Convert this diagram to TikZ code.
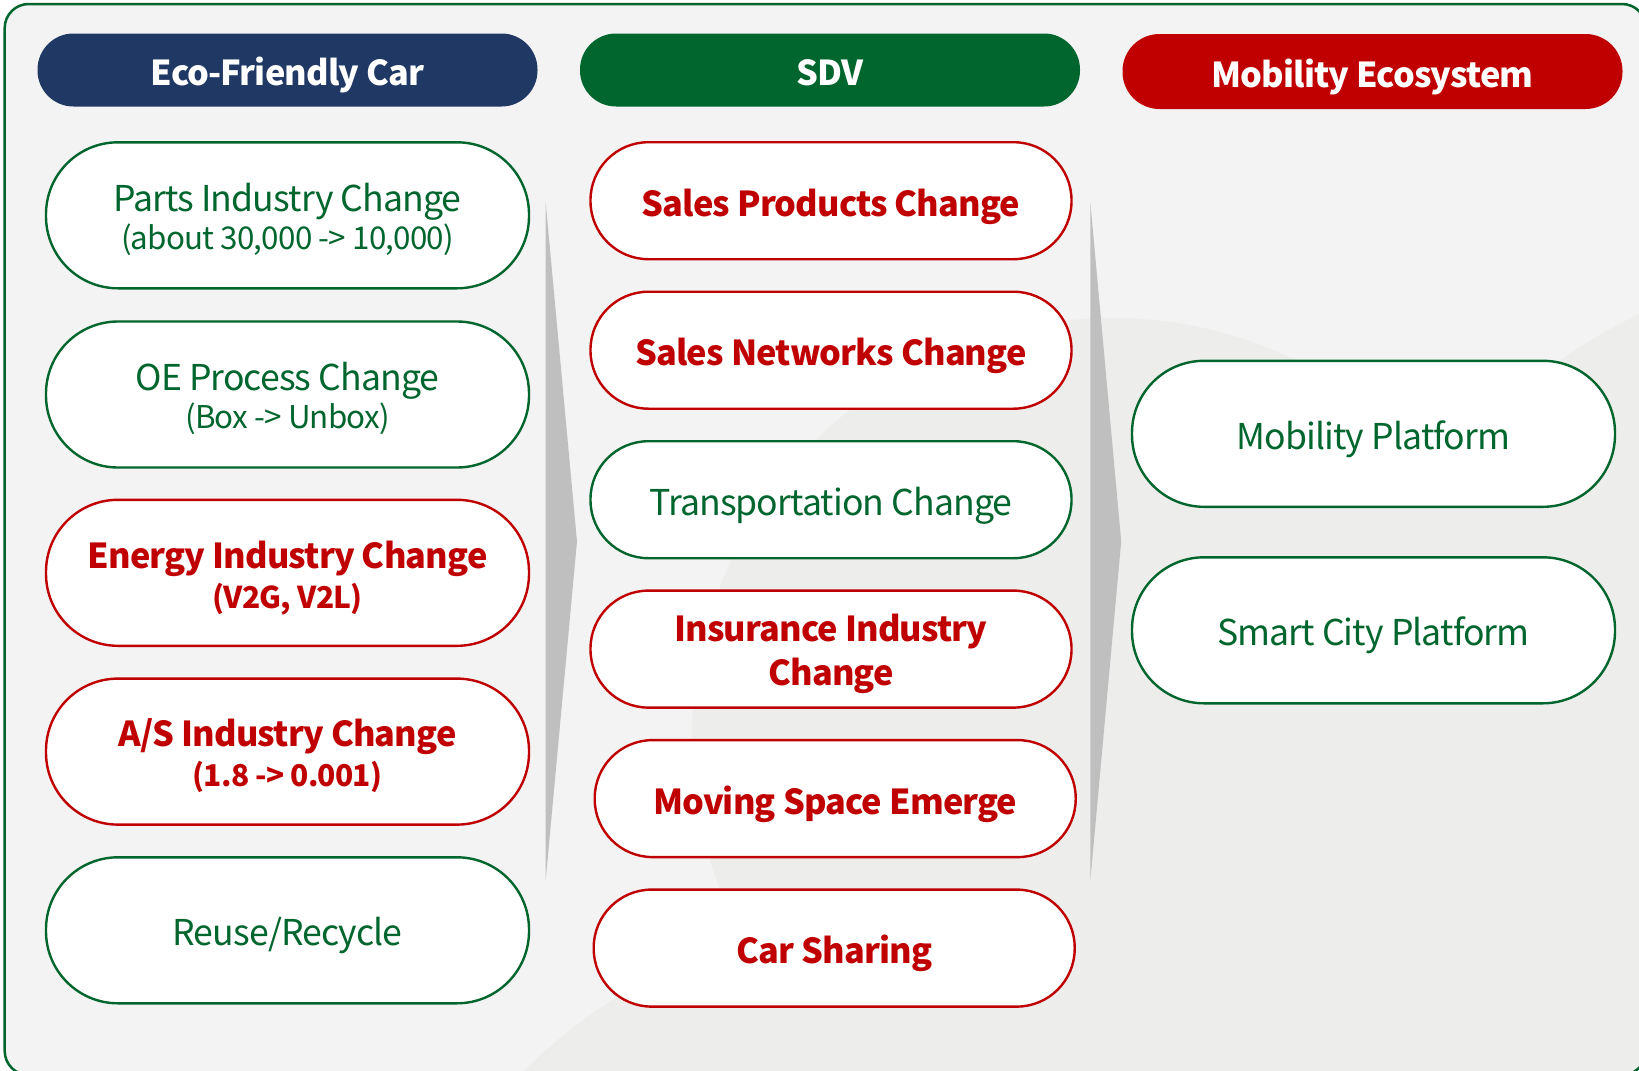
\documentclass[tikz,border=0pt]{standalone}
\usepackage{fontspec}
\setmainfont{Noto Sans CJK KR}[LetterSpace=-2.5]
\definecolor{navy}{HTML}{1F3864}
\definecolor{hgreen}{HTML}{00662E}
\definecolor{tgreen}{HTML}{00662E}
\definecolor{hred}{HTML}{C00000}
\definecolor{bglight}{HTML}{F3F3F3}
\definecolor{bgdark}{HTML}{EDEDEB}
\definecolor{arrgray}{HTML}{BFBFBF}
\newlength\tmpw
\newcommand\calibsize[4]{\settowidth\tmpw{#2\fontsize{50}{60}\selectfont #3}\pgfmathsetmacro#1{#4/\tmpw*50}\global\let#1#1}
\AtBeginDocument{%
\calibsize{\sH}{\bfseries}{Mobility Ecosystem}{322}%
\calibsize{\sG}{}{Parts Industry Change}{348}%
\calibsize{\sGs}{}{(about 30,000 -> 10,000)}{333}%
\calibsize{\sR}{\bfseries}{Energy Industry Change}{400}%
\calibsize{\sRs}{\bfseries}{(1.8 -> 0.001)}{190}%
}
\tikzset{
  hdr/.style={fill=#1, draw=none, rectangle, rounded corners=36pt, minimum width=500pt, minimum height=73pt, inner sep=0pt, text=white, font=\fontsize{\sH}{40}\selectfont\bfseries, text height=31pt, text depth=0pt},
  pill/.style={draw=#1, line width=2.4pt, fill=white, rectangle, inner sep=0pt, align=center},
  bigpill/.style={pill=#1, minimum width=483pt, minimum height=146pt, rounded corners=72pt},
  midpill/.style={pill=#1, minimum width=481pt, minimum height=117pt, rounded corners=58pt},
  gtxt/.style={text=tgreen, font=\fontsize{\sG}{38}\selectfont},
  rtxt/.style={text=hred, font=\fontsize{\sR}{40}\selectfont\bfseries},
  oneline/.style={text height=31pt, text depth=0pt},
  twoline/.style={text height=#1, text depth=0pt},
  flow/.style={fill=arrgray, draw=none},
  frame/.style={rounded corners=24pt},
}
\begin{document}
\begin{tikzpicture}[x=1pt,y=-1pt]
\useasboundingbox (0,0) rectangle (1639,1071);
% frame background
\fill[bglight, frame] (4.7,4) rectangle (1646,1075);
\begin{scope}
  \clip[frame] (4.7,4) rectangle (1646,1075);
  \fill[bgdark] (1112,738) circle[radius=420];
  \fill[bgdark] (1900,850) circle[radius=596];
  \fill[bgdark] (878,1424) circle[radius=500];
  \fill[bgdark] (1430,1180) circle[radius=300];
\end{scope}
\draw[hgreen, line width=2.5pt, frame] (4.7,4) rectangle (1646,1075);

% headers
\node[hdr=navy] (h1) at (287.5,70) {Eco-Friendly Car};
\node[hdr=hgreen] (h2) at (830,70) {SDV};
\node[hdr=hred, minimum height=75pt, rounded corners=37pt] (h3) at (1372.5,71.5) {Mobility Ecosystem};

% flow arrows
\fill[flow] (545.6,201.7) -- (577,541.5) -- (545.6,881) -- cycle;
\fill[flow] (1090.3,201.7) -- (1121.2,541.5) -- (1090.3,881) -- cycle;

% left column
\node[bigpill=hgreen, gtxt, twoline=69pt] (l1) at (287.5,215.3) {Parts Industry Change\\{\fontsize{\sGs}{38}\selectfont (about 30,000 -> 10,000)}};
\node[bigpill=hgreen, gtxt, twoline=68pt] (l2) at (287.5,394.5) {OE Process Change\\{\fontsize{\sGs}{38}\selectfont (Box -> Unbox)}};
\node[bigpill=hred, rtxt, twoline=71pt] (l3) at (287.5,572.8) {Energy Industry Change\\{\fontsize{\sRs}{40}\selectfont\bfseries (V2G, V2L)}};
\node[bigpill=hred, rtxt, twoline=70pt] (l4) at (287.5,751.6) {A/S Industry Change\\{\fontsize{\sRs}{40}\selectfont\bfseries (1.8 -> 0.001)}};
\node[bigpill=hgreen, gtxt, oneline] (l5) at (287.5,930.3) {Reuse/Recycle};

% middle column
\node[midpill=hred, rtxt, oneline] (m1) at (831,200.7) {Sales Products Change};
\node[midpill=hred, rtxt, oneline] (m2) at (831,350.2) {Sales Networks Change};
\node[midpill=hgreen, gtxt, oneline] (m3) at (831,499.7) {Transportation Change};
\node[midpill=hred, rtxt, twoline=73pt] (m4) at (831,649.1) {Insurance Industry\\[4pt]Change};
\node[midpill=hred, rtxt, oneline] (m5) at (835.2,798.6) {Moving Space Emerge};
\node[midpill=hred, rtxt, oneline] (m6) at (834.2,948.1) {Car Sharing};

% right column
\node[bigpill=hgreen, gtxt, oneline] (r1) at (1373.5,433.8) {Mobility Platform};
\node[bigpill=hgreen, gtxt, oneline] (r2) at (1373.5,630.3) {Smart City Platform};
\end{tikzpicture}
\end{document}
